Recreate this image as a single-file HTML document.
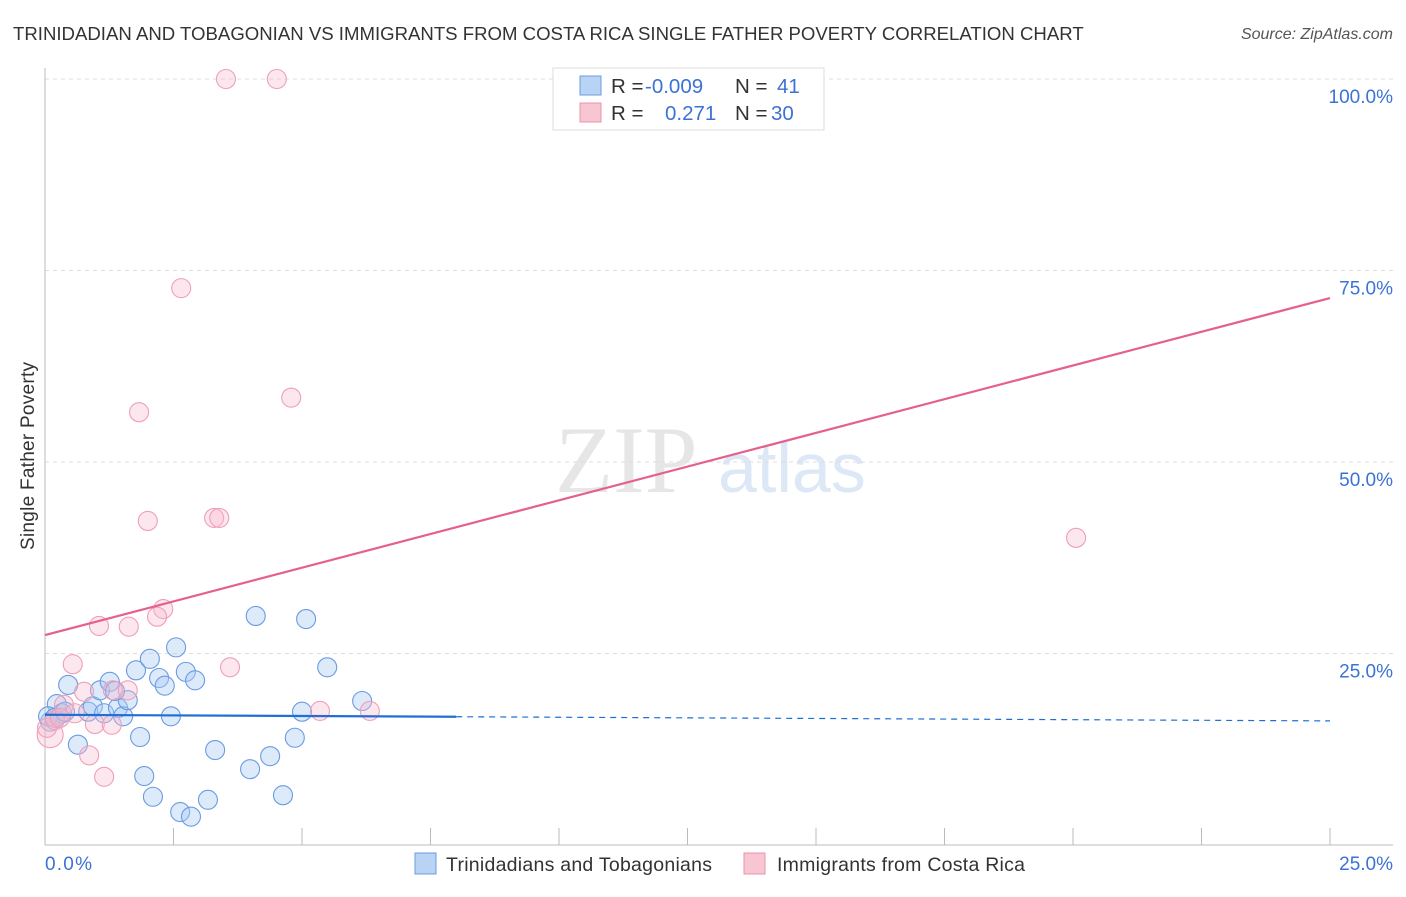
<!DOCTYPE html>
<html><head><meta charset="utf-8"><style>
body{margin:0;background:#fff;font-family:"Liberation Sans",sans-serif}
svg text{font-family:"Liberation Sans",sans-serif}
</style></head><body>
<svg id="chart" width="1406" height="892">
<text x="13" y="40" font-size="18.6" fill="#333">TRINIDADIAN AND TOBAGONIAN VS IMMIGRANTS FROM COSTA RICA SINGLE FATHER POVERTY CORRELATION CHART</text>
<text x="1393" y="39" font-size="16" fill="#555" font-style="italic" text-anchor="end">Source: ZipAtlas.com</text>
<text x="555" y="492" font-size="95" fill="#e6e6e6" style="font-family:'Liberation Serif',serif">ZIP</text>
<text x="718" y="492" font-size="70" fill="#dde8f6">atlas</text>
<g id="grid"></g>
<line x1="45" y1="68" x2="45" y2="845" stroke="#bbb"/>
<line x1="45" y1="845" x2="1393" y2="845" stroke="#bbb"/>
<text x="34" y="456" font-size="19" fill="#333" text-anchor="middle" transform="rotate(-90 34 456)" textLength="188">Single Father Poverty</text>
<text x="45" y="870" font-size="19" fill="#3b72d6" textLength="47">0.0%</text>
<text x="1393" y="870" font-size="19" fill="#3b72d6" text-anchor="end">25.0%</text>
<g id="pts"></g>
<g id="trends"></g>
<g>
<rect x="553" y="68" width="271" height="62" fill="#fff" stroke="#ddd"/>
<rect x="580" y="76" width="21" height="19" fill="#b9d3f5" stroke="#6a9be0"/>
<rect x="580" y="103" width="21" height="19" fill="#f8c5d3" stroke="#ec93ad"/>
<text font-size="20.5" y="93"><tspan x="611" fill="#333">R = </tspan><tspan x="645" fill="#3b72d6">-0.009</tspan><tspan x="735" fill="#333">N = </tspan><tspan x="777" fill="#3b72d6">41</tspan></text>
<text font-size="20.5" y="120"><tspan x="611" fill="#333">R = </tspan><tspan x="665" fill="#3b72d6">0.271</tspan><tspan x="735" fill="#333">N = </tspan><tspan x="771" fill="#3b72d6">30</tspan></text>
</g>
<g>
<rect x="415" y="853" width="21" height="21" fill="#b9d3f5" stroke="#6a9be0"/>
<text x="446" y="871" font-size="19.5" fill="#333" textLength="266">Trinidadians and Tobagonians</text>
<rect x="744" y="853" width="21" height="21" fill="#f8c5d3" stroke="#ec93ad"/>
<text x="777" y="871" font-size="19.5" fill="#333" textLength="248">Immigrants from Costa Rica</text>
</g>
</svg>
<script>
const yTicks=[25,50,75,100];
const yTickLabels=["25.0%","50.0%","75.0%","100.0%"];
const xTicks=[0,2.5,5,7.5,10,12.5,15,17.5,20,22.5,25];
const blueX=[0.23,0.45,0.33,0.64,0.84,0.93,1.07,1.26,1.15,1.42,1.52,1.61,1.36,1.85,1.77,2.04,2.22,2.33,2.55,2.74,2.92,2.45,1.93,2.10,2.63,2.84,3.17,3.31,3.99,4.10,4.38,4.63,4.86,5.00,5.08,5.49,6.17,0.10,0.06,0.19,0.39];
const blueY=[18.4,20.9,17.2,13.1,17.4,18.1,20.2,21.3,17.2,17.9,16.8,18.9,20.1,14.1,22.8,24.3,21.8,20.8,25.8,22.6,21.5,16.8,9.0,6.3,4.3,3.7,5.9,12.4,9.9,29.9,11.6,6.5,14.0,17.4,29.5,23.2,18.8,16.1,16.8,16.6,17.4];
const pinkX=[3.52,4.51,2.65,1.83,4.79,2.0,3.29,3.39,2.30,2.18,1.05,1.63,0.54,3.60,0.76,1.32,1.61,0.37,0.58,0.97,1.30,0.86,1.15,5.35,6.32,20.06,0.1,0.04,0.19,0.29];
const pinkY=[100,100,72.7,56.5,58.4,42.3,42.7,42.7,30.8,29.8,28.6,28.5,23.6,23.2,20.0,20.2,20.2,18.3,17.2,15.8,15.7,11.7,8.9,17.5,17.5,40.1,14.4,15.3,16.3,16.6];
const blueTrend=[17.0,16.2];
const pinkTrend=[27.4,71.4];
const blueSolidEnd=8;
const NS="http://www.w3.org/2000/svg";
const sx=v=>45+v*(1330-45)/25;
const sy=v=>845-v*(845-79)/100;
function mk(tag,attrs,parent){const e=document.createElementNS(NS,tag);for(const k in attrs)e.setAttribute(k,attrs[k]);parent.appendChild(e);return e;}
const grid=document.getElementById('grid');
yTicks.forEach((t,i)=>{
 const l=mk('line',{x1:45,x2:1393,y1:sy(t),y2:sy(t),stroke:'#ddd','stroke-dasharray':'4,4'},grid);
 
 
 const tx=mk('text',{x:1393,y:sy(t)+24,'font-size':19,fill:'#3b72d6','text-anchor':'end'},grid);
 tx.textContent=yTickLabels[i];
 
 
});
mk('line',{x1:45,x2:1393,y1:79,y2:79,stroke:'#ddd','stroke-dasharray':'4,4'},grid);
xTicks.forEach(t=>{
 const l=mk('line',{x1:sx(t),x2:sx(t),y1:828,y2:845,stroke:'#bbb'},grid);
 
 
});
const pts=document.getElementById('pts');
blueX.forEach((x,i)=>{
 const c=mk('circle',{cx:sx(x),cy:sy(blueY[i]),r:9.5,fill:'rgba(170,202,242,0.4)',stroke:'#6a9be0','stroke-width':1.1},pts);
 
 
});
pinkX.forEach((x,i)=>{
 const c=mk('circle',{cx:sx(x),cy:sy(pinkY[i]),r:i==26?13:9.5,fill:'rgba(247,185,205,0.35)',stroke:'#ef9fb8','stroke-width':1.1},pts);
 
 
});
const tr=document.getElementById('trends');
const by=x=>blueTrend[0]+(blueTrend[1]-blueTrend[0])*x/25;
let l1=mk('line',{x1:sx(0),y1:sy(pinkTrend[0]),x2:sx(25),y2:sy(pinkTrend[1]),stroke:'#e5608c','stroke-width':2.2},tr);


let l2=mk('line',{x1:sx(0),y1:sy(by(0)),x2:sx(blueSolidEnd),y2:sy(by(blueSolidEnd)),stroke:'#1f6fd6','stroke-width':2.2},tr);


let l3=mk('line',{x1:sx(blueSolidEnd),y1:sy(by(blueSolidEnd)),x2:sx(25),y2:sy(by(25)),stroke:'#1f6fd6','stroke-width':1.2,'stroke-dasharray':'6,5'},tr);


</script>
</body></html>
